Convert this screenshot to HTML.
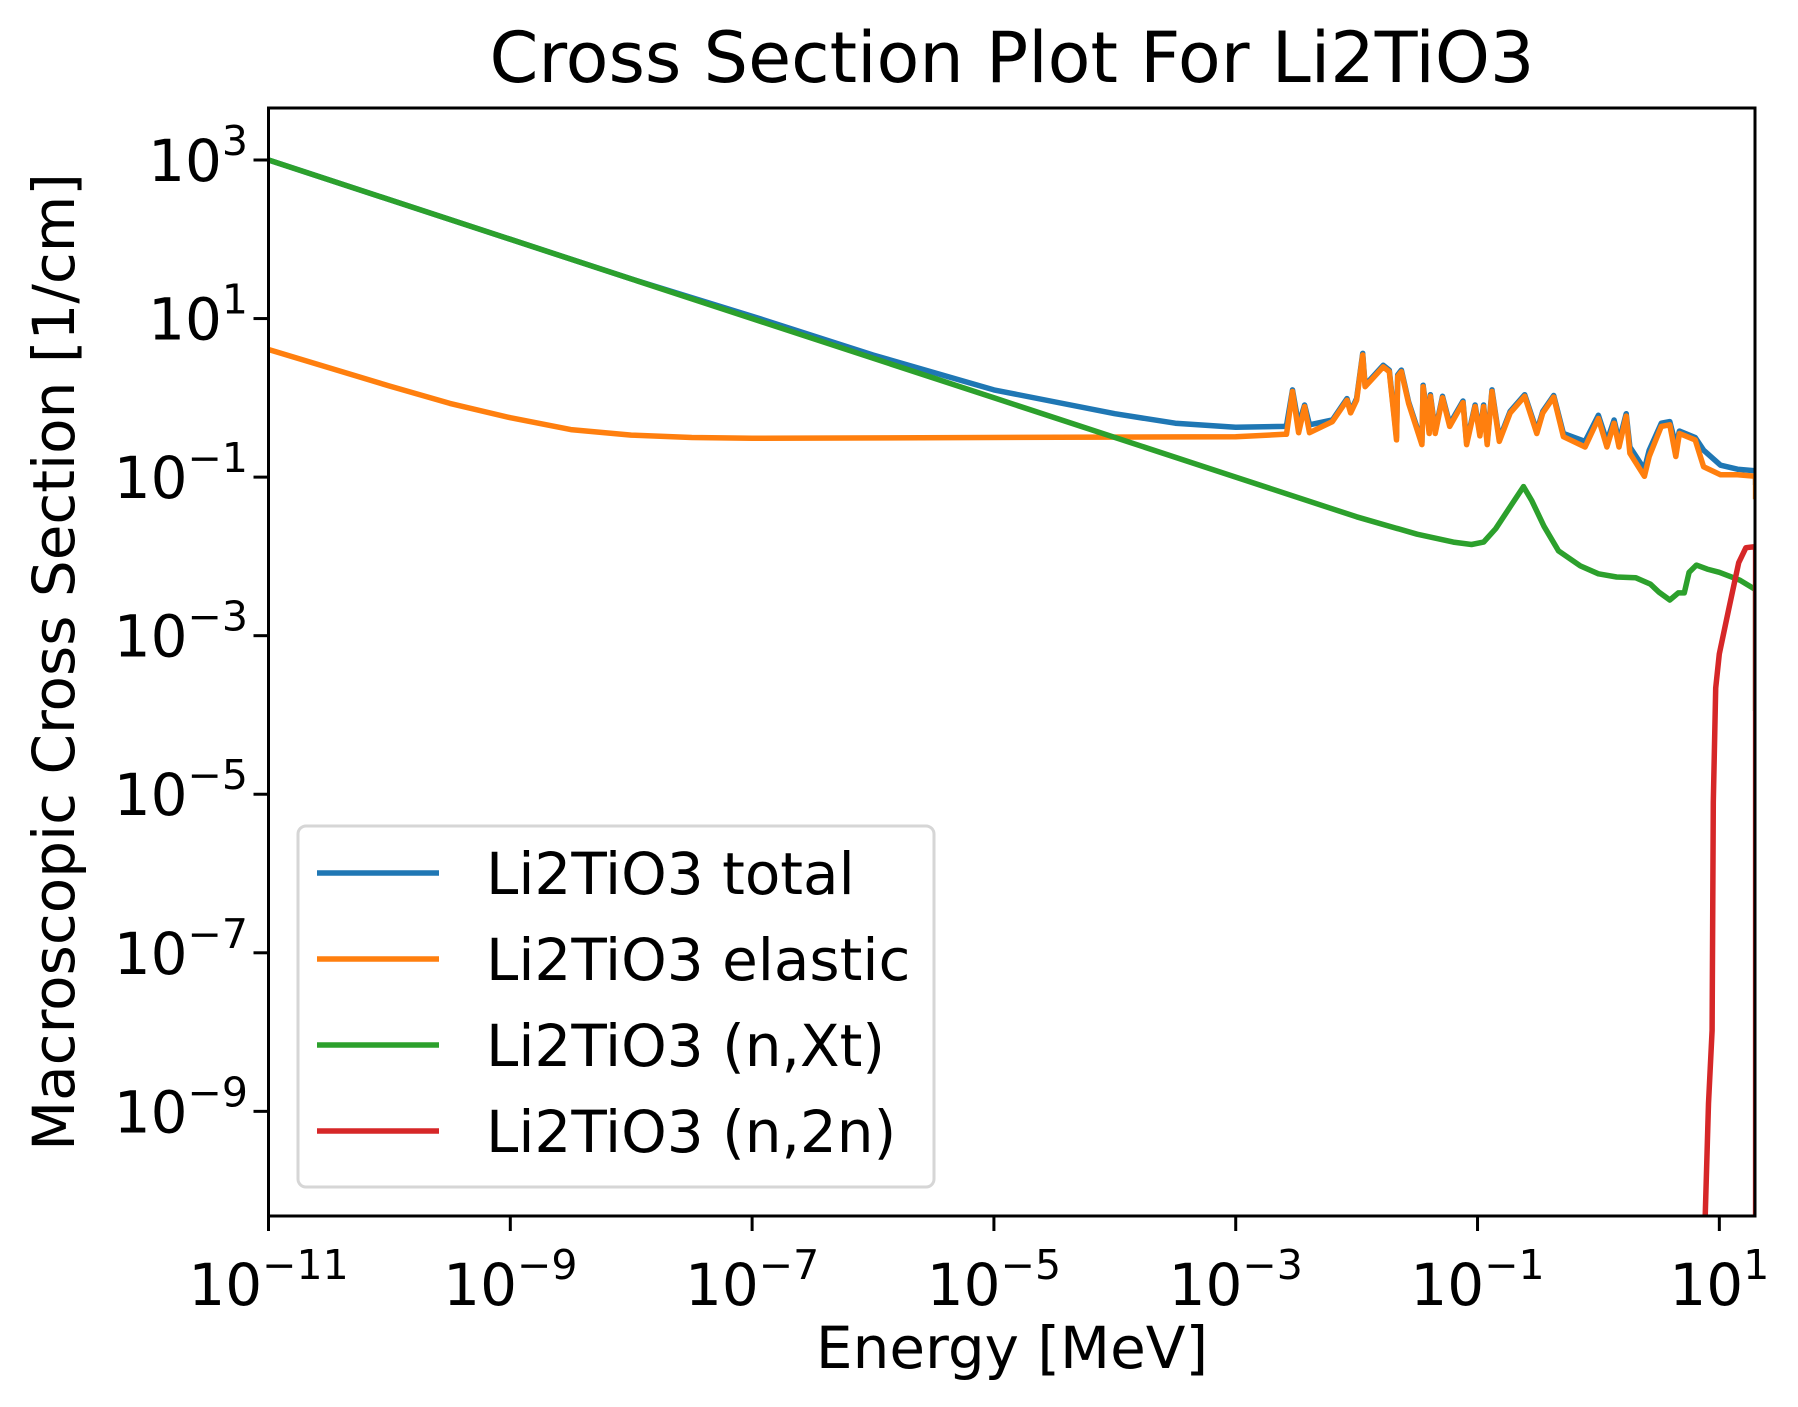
<!DOCTYPE html>
<html><head><meta charset="utf-8"><style>
html,body{margin:0;padding:0;background:#fff;}
svg{display:block;font-family:"DejaVu Sans","Liberation Sans",sans-serif;}
</style></head><body>
<svg id="chart" width="1798" height="1407" viewBox="0 0 1798 1407">
<rect x="0" y="0" width="1798" height="1407" fill="#fff"/>
<text x="1012" y="82" font-size="70" text-anchor="middle">Cross Section Plot For Li2TiO3</text>
<g id="plot"></g>
<g id="axes"></g>
<text x="1012" y="1368" font-size="58" text-anchor="middle">Energy [MeV]</text>
<text transform="translate(74,662) rotate(-90)" font-size="58" text-anchor="middle">Macroscopic Cross Section [1/cm]</text>
<g id="legend"></g>
</svg>
<script>
// data in log10 units
const xTicks = [-11,-9,-7,-5,-3,-1,1];
const yTicks = [3,1,-1,-3,-5,-7,-9];
const seriesNames = ["Li2TiO3 total","Li2TiO3 elastic","Li2TiO3 (n,Xt)","Li2TiO3 (n,2n)"];
const seriesColors = ["#1f77b4","#ff7f0e","#2ca02c","#d62728"];
const totalLogE = [-11,-9,-8,-7,-6,-5,-4,-3.5,-3,-2.6,-2.58,-2.53,-2.48,-2.43,-2.39,-2.2,-2.08,-2.05,-2.0,-1.95,-1.93,-1.78,-1.73,-1.67,-1.66,-1.63,-1.57,-1.46,-1.45,-1.4,-1.39,-1.35,-1.29,-1.23,-1.12,-1.09,-1.02,-0.98,-0.95,-0.92,-0.88,-0.82,-0.73,-0.61,-0.51,-0.46,-0.37,-0.29,-0.11,0.0,0.07,0.13,0.17,0.23,0.26,0.38,0.42,0.52,0.59,0.64,0.67,0.8,0.87,1.01,1.15,1.3,1.3];
const totalLogV = [3.0,2.0,1.5,1.03,0.54,0.1,-0.2,-0.32,-0.37,-0.36,-0.35,0.1,-0.34,-0.09,-0.34,-0.28,-0.01,-0.17,-0.01,0.56,0.16,0.41,0.35,-0.5,0.29,0.35,-0.05,-0.56,0.16,-0.42,0.04,-0.42,0.02,-0.33,-0.04,-0.56,-0.09,-0.45,-0.09,-0.56,0.1,-0.52,-0.17,0.04,-0.42,-0.17,0.03,-0.45,-0.55,-0.22,-0.55,-0.28,-0.55,-0.2,-0.62,-0.9,-0.66,-0.32,-0.3,-0.6,-0.42,-0.5,-0.66,-0.85,-0.9,-0.92,-1.1];
const elasticLogE = [-11,-10.5,-10,-9.5,-9,-8.5,-8,-7.5,-7,-3,-2.6,-2.58,-2.53,-2.48,-2.43,-2.39,-2.2,-2.08,-2.05,-2.0,-1.95,-1.93,-1.78,-1.73,-1.67,-1.66,-1.63,-1.57,-1.46,-1.45,-1.4,-1.39,-1.35,-1.29,-1.23,-1.12,-1.09,-1.02,-0.98,-0.95,-0.92,-0.88,-0.82,-0.73,-0.61,-0.51,-0.46,-0.37,-0.29,-0.11,0.0,0.07,0.13,0.17,0.23,0.26,0.38,0.42,0.52,0.59,0.64,0.67,0.8,0.87,1.01,1.15,1.3,1.3];
const elasticLogV = [0.61,0.38,0.15,-0.07,-0.25,-0.4,-0.47,-0.5,-0.51,-0.49,-0.46,-0.46,0.08,-0.44,-0.11,-0.44,-0.3,-0.03,-0.19,-0.03,0.54,0.14,0.39,0.33,-0.53,0.27,0.33,-0.07,-0.59,0.14,-0.45,0.02,-0.45,0.0,-0.36,-0.06,-0.59,-0.11,-0.48,-0.11,-0.59,0.08,-0.55,-0.19,0.02,-0.45,-0.19,0.01,-0.49,-0.62,-0.26,-0.62,-0.32,-0.62,-0.23,-0.7,-0.99,-0.74,-0.36,-0.34,-0.74,-0.45,-0.53,-0.87,-0.97,-0.97,-0.99,-1.28];
const xtLogE = [-11,-9,-7,-5,-3,-2,-1.5,-1.2,-1.05,-0.95,-0.85,-0.72,-0.62,-0.55,-0.45,-0.33,-0.15,0,0.15,0.31,0.43,0.5,0.59,0.63,0.66,0.71,0.75,0.81,0.9,1.0,1.17,1.3,1.3];
const xtLogV = [3,2,1,0,-1,-1.5,-1.72,-1.82,-1.85,-1.82,-1.65,-1.35,-1.12,-1.3,-1.62,-1.93,-2.12,-2.22,-2.26,-2.27,-2.35,-2.45,-2.55,-2.5,-2.46,-2.46,-2.2,-2.11,-2.16,-2.2,-2.3,-2.42,-3.95];
const n2nLogE = [0.88,0.91,0.94,0.95,0.97,1.0,1.08,1.16,1.22,1.28,1.3,1.3];
const n2nLogV = [-10.5,-8.9,-7.98,-5.1,-3.66,-3.23,-2.65,-2.08,-1.89,-1.88,-1.9,-10.5];

const L=268.5,R=1755,T=108,B=1216;
const xMin=-11, xMax=1.295, yTop=3.656, yBot=-10.32;
function X(v){return L+(v-xMin)/(xMax-xMin)*(R-L);}
function Y(v){return T+(yTop-v)/(yTop-yBot)*(B-T);}
const NS="http://www.w3.org/2000/svg";
function mk(tag,attrs,parent){const e=document.createElementNS(NS,tag);for(const k in attrs)e.setAttribute(k,attrs[k]);parent.appendChild(e);return e;}

const plot=document.getElementById('plot');
const defs=mk('defs',{},plot);
const cp=mk('clipPath',{id:'clip'},defs);
mk('rect',{x:L,y:T,width:R-L,height:B-T},cp);
const series=[[totalLogE,totalLogV,'series-total'],[elasticLogE,elasticLogV,'series-elastic'],[xtLogE,xtLogV,'series-n-xt'],[n2nLogE,n2nLogV,'series-n-2n']];
series.forEach((s,i)=>{
  const d=s[0].map((e,j)=>(j?'L':'M')+X(e).toFixed(1)+','+Y(s[1][j]).toFixed(1)).join(' ');
  const p=mk('path',{d:d,fill:'none',stroke:seriesColors[i],'stroke-width':5.5,'stroke-linejoin':'round','clip-path':'url(#clip)'},plot);
  
  
});

const axes=document.getElementById('axes');
const frame=mk('rect',{x:L,y:T,width:R-L,height:B-T,fill:'none',stroke:'#000','stroke-width':3},axes);


xTicks.forEach(t=>{
  const x=X(t);
  const tk=mk('line',{x1:x,y1:B,x2:x,y2:B+15,stroke:'#000','stroke-width':3},axes);
  
  
  const tx=mk('text',{x:x,y:1305,'font-size':58,'text-anchor':'middle'},axes);
  
  
  tx.innerHTML='10<tspan dy="-26" font-size="41">'+(t<0?'\u2212':'')+Math.abs(t)+'</tspan>';
});
yTicks.forEach(t=>{
  const y=Y(t);
  const tk=mk('line',{x1:L-15,y1:y,x2:L,y2:y,stroke:'#000','stroke-width':3},axes);
  
  
  const tx=mk('text',{x:248,y:y+21,'font-size':58,'text-anchor':'end'},axes);
  
  
  tx.innerHTML='10<tspan dy="-26" font-size="41">'+(t<0?'\u2212':'')+Math.abs(t)+'</tspan>';
});

const lg=document.getElementById('legend');
const box=mk('rect',{x:298,y:826,width:636,height:361,rx:8,fill:'#fff',stroke:'#d6d6d6','stroke-width':3,'fill-opacity':0.85},lg);


const rows=[873,959,1045,1131];
seriesNames.forEach((n,i)=>{
  const ln=mk('line',{x1:317,y1:rows[i],x2:439,y2:rows[i],stroke:seriesColors[i],'stroke-width':5.5},lg);
  
  
  const tx=mk('text',{x:486,y:rows[i]+21,'font-size':58},lg);
  
  
  tx.textContent=n;
});
</script>
</body></html>
